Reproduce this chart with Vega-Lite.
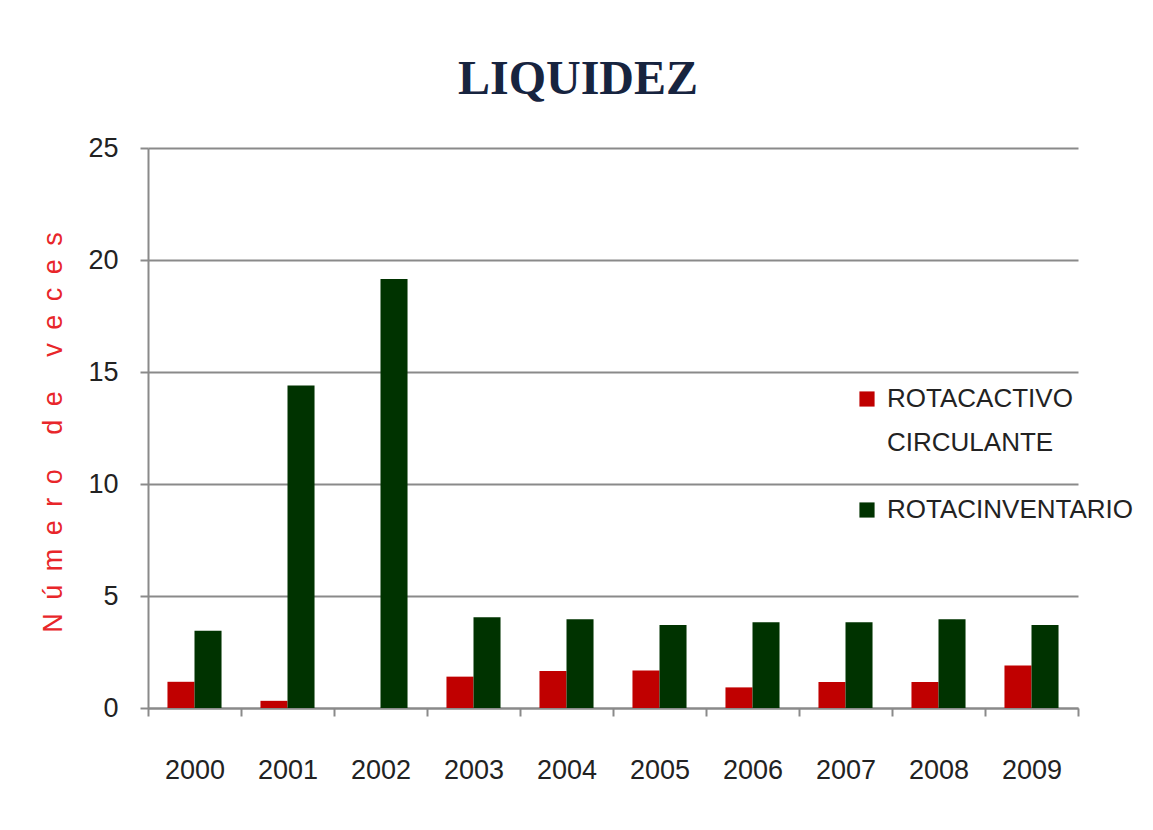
{
  "$schema": "https://vega.github.io/schema/vega-lite/v6.json",
  "autosize": "none",
  "width": 930,
  "height": 560,
  "padding": {"left": 148, "top": 148, "right": 75, "bottom": 122},
  "background": "white",
  "title": {
    "text": "LIQUIDEZ",
    "font": "Liberation Serif",
    "fontSize": 48,
    "fontWeight": "bold",
    "color": "#17243f",
    "anchor": "middle",
    "dx": -35,
    "offset": 30
  },
  "data": {
    "values": [
      {"year": "2000", "serie": "ROTACACTIVO CIRCULANTE", "valor": 1.17},
      {"year": "2000", "serie": "ROTACINVENTARIO", "valor": 3.45},
      {"year": "2001", "serie": "ROTACACTIVO CIRCULANTE", "valor": 0.32},
      {"year": "2001", "serie": "ROTACINVENTARIO", "valor": 14.4},
      {"year": "2002", "serie": "ROTACACTIVO CIRCULANTE", "valor": 0},
      {"year": "2002", "serie": "ROTACINVENTARIO", "valor": 19.15},
      {"year": "2003", "serie": "ROTACACTIVO CIRCULANTE", "valor": 1.4},
      {"year": "2003", "serie": "ROTACINVENTARIO", "valor": 4.05},
      {"year": "2004", "serie": "ROTACACTIVO CIRCULANTE", "valor": 1.65},
      {"year": "2004", "serie": "ROTACINVENTARIO", "valor": 3.96},
      {"year": "2005", "serie": "ROTACACTIVO CIRCULANTE", "valor": 1.67},
      {"year": "2005", "serie": "ROTACINVENTARIO", "valor": 3.7},
      {"year": "2006", "serie": "ROTACACTIVO CIRCULANTE", "valor": 0.92},
      {"year": "2006", "serie": "ROTACINVENTARIO", "valor": 3.83},
      {"year": "2007", "serie": "ROTACACTIVO CIRCULANTE", "valor": 1.16},
      {"year": "2007", "serie": "ROTACINVENTARIO", "valor": 3.83},
      {"year": "2008", "serie": "ROTACACTIVO CIRCULANTE", "valor": 1.16},
      {"year": "2008", "serie": "ROTACINVENTARIO", "valor": 3.96},
      {"year": "2009", "serie": "ROTACACTIVO CIRCULANTE", "valor": 1.9},
      {"year": "2009", "serie": "ROTACINVENTARIO", "valor": 3.7}
    ]
  },
  "mark": {"type": "bar"},
  "encoding": {
    "x": {
      "field": "year",
      "type": "nominal",
      "scale": {"paddingInner": 0, "paddingOuter": 0},
      "axis": {
        "title": null,
        "labelAngle": 0,
        "labelFont": "Liberation Sans",
        "labelFontSize": 27,
        "labelColor": "#222222",
        "labelPadding": 41,
        "tickBand": "extent",
        "tickSize": 8,
        "tickColor": "#8a8a8a",
        "tickWidth": 2,
        "domainColor": "#8a8a8a",
        "domainWidth": 2,
        "grid": false
      }
    },
    "xOffset": {
      "field": "serie",
      "type": "nominal",
      "scale": {"paddingInner": 0, "paddingOuter": 0.72}
    },
    "y": {
      "field": "valor",
      "type": "quantitative",
      "scale": {"domain": [0, 25]},
      "axis": {
        "title": "N\u2002ú\u2002m\u2002e\u2002r\u2002o\u2002\u00a0\u2002d\u2002e\u2002\u00a0\u2002v\u2002e\u2002c\u2002e\u2002s",
        "titleColor": "#e8262a",
        "titleFont": "Liberation Sans",
        "titleFontSize": 27,
        "titleFontWeight": "normal",
        "titlePadding": 20,
        "titleY": 284,
        "values": [0, 5, 10, 15, 20, 25],
        "labelFont": "Liberation Sans",
        "labelFontSize": 27,
        "labelColor": "#222222",
        "labelPadding": 22,
        "tickSize": 8,
        "tickColor": "#8a8a8a",
        "tickWidth": 2,
        "domainColor": "#8a8a8a",
        "domainWidth": 2,
        "gridColor": "#8a8a8a",
        "gridWidth": 2
      }
    },
    "color": {
      "field": "serie",
      "type": "nominal",
      "scale": {
        "domain": ["ROTACACTIVO CIRCULANTE", "ROTACINVENTARIO"],
        "range": ["#c00000", "#003300"]
      },
      "legend": {
        "title": null,
        "orient": "none",
        "legendX": 706,
        "legendY": 238,
        "symbolType": "square",
        "symbolSize": 230,
        "symbolStrokeWidth": 0,
        "labelFont": "Liberation Sans",
        "labelFontSize": 26,
        "labelColor": "#222222",
        "labelLimit": 300,
        "labelOffset": 7,
        "rowPadding": 41,
        "labelExpr": "datum.label == 'ROTACACTIVO CIRCULANTE' ? ['ROTACACTIVO', 'CIRCULANTE'] : datum.label",
        "encode": {"labels": {"update": {"lineHeight": {"value": 44}}}}
      }
    }
  },
  "config": {
    "view": {"stroke": null}
  }
}
